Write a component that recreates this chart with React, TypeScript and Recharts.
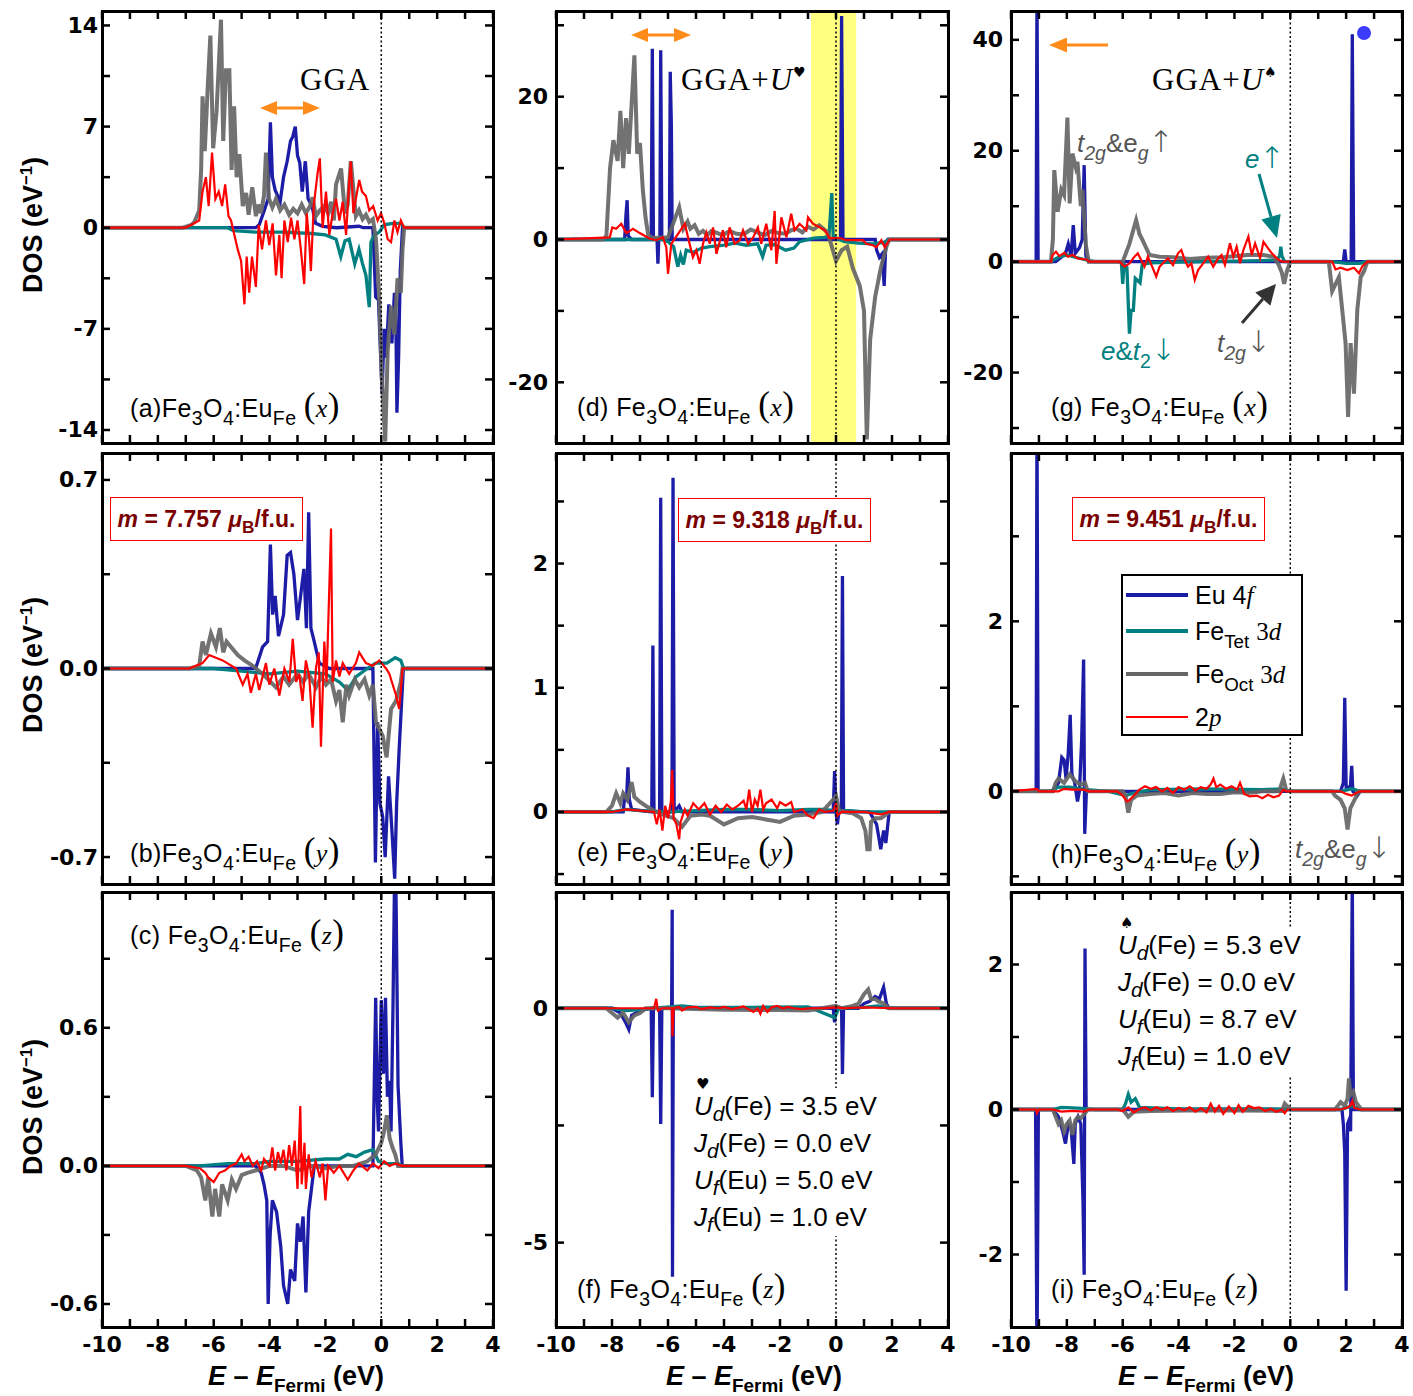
import React from 'react';
import { LineChart, Line, XAxis, YAxis, ReferenceLine, ReferenceArea } from 'recharts';

type Pt = [number, number];

const C_EU = '#1c1ca6';
const C_TET = '#008080';
const C_OCT = '#666666';
const C_P = '#ff0000';

const SANS = "'Liberation Sans', Arial, Helvetica, 'DejaVu Sans', sans-serif";
const SERIF = "'Liberation Serif', 'Times New Roman', 'DejaVu Serif', serif";
const TICKF = "'DejaVu Sans', sans-serif";
const ARROWF = "'DejaVu Sans', sans-serif";

const X_TICKS = [-10, -9, -8, -7, -6, -5, -4, -3, -2, -1, 0, 1, 2, 3, 4];

// ---------- panel (a) GGA, x ----------
const aDom: [number, number] = [-14.9, 15.0];
const aTicks = [-14, -10.5, -7, -3.5, 0, 3.5, 7, 10.5, 14];
const aLabels = [-14, -7, 0, 7, 14];
const aEu: Pt[] = [[-10,0],[-4.5,0],[-4.37,0.2],[-4.19,1.2],[-4.05,2],[-3.97,7.3],[-3.9,3.5],[-3.8,2.6],[-3.62,1.8],[-3.5,3.5],[-3.37,4.6],[-3.25,6.0],[-3.17,6.3],[-3.08,7.0],[-3.0,5.0],[-2.92,4.5],[-2.83,2.5],[-2.72,4.6],[-2.62,2.0],[-2.48,1.5],[-2.35,0.3],[-2.1,0.1],[-1.6,0],[-0.8,0.1],[-0.65,0],[-0.3,0],[-0.2,-4.8],[-0.1,-5],[0.03,-11.5],[0.1,-7],[0.17,-9],[0.27,-5.3],[0.38,-8],[0.47,-4.5],[0.52,-6],[0.56,-12.8],[0.62,-9],[0.68,-3],[0.76,0],[4,0]];
const aTet: Pt[] = [[-10,0],[-5.5,0],[-5.3,-0.2],[-4.5,-0.3],[-3.5,-0.3],[-2.5,-0.4],[-2.0,-0.5],[-1.62,-0.8],[-1.45,-2.0],[-1.3,-0.9],[-1.15,-0.8],[-0.95,-2.5],[-0.8,-1.5],[-0.67,-2.5],[-0.55,-3.3],[-0.43,-5.5],[-0.37,-1],[-0.25,-0.5],[-0.07,-0.3],[0.1,0.2],[0.4,0.3],[0.7,0.3],[0.82,0],[4,0]];
const aOct: Pt[] = [[-10,0],[-7.11,0],[-6.8,0.2],[-6.69,0.4],[-6.52,1.2],[-6.45,4],[-6.40,9.1],[-6.32,5.3],[-6.22,9.5],[-6.12,13.3],[-6.02,5.5],[-5.9,8],[-5.74,14.4],[-5.66,6],[-5.56,10.9],[-5.44,10.9],[-5.36,4],[-5.27,8.4],[-5.18,3.5],[-5.08,5.1],[-4.96,1.5],[-4.84,2.4],[-4.75,0.9],[-4.62,2.8],[-4.49,0.8],[-4.4,1.6],[-4.31,1.0],[-4.2,2.2],[-4.13,5.2],[-4.02,2.0],[-3.9,1.4],[-3.77,2.0],[-3.62,1.2],[-3.47,1.6],[-3.3,0.9],[-3.15,1.3],[-3.0,1.0],[-2.85,1.6],[-2.7,1.0],[-2.55,1.5],[-2.46,2.1],[-2.34,0.8],[-2.2,1.2],[-2.04,1.5],[-1.9,1.0],[-1.8,1.8],[-1.7,0.5],[-1.62,3.0],[-1.44,4.1],[-1.3,1.0],[-1.2,1.6],[-1.09,4.6],[-0.91,0.8],[-0.8,1.2],[-0.67,0.6],[-0.55,0.9],[-0.43,0.4],[-0.3,0.6],[-0.19,-0.8],[-0.07,-5],[0.02,-10.4],[0.14,-14.8],[0.23,-8.5],[0.35,-5.4],[0.47,-7.4],[0.58,-3.5],[0.70,-4.5],[0.76,-1.5],[0.82,0],[4,0]];
const aP: Pt[] = [[-10,0],[-7.0,0],[-6.52,0.5],[-6.40,2.5],[-6.28,3.5],[-6.18,1.5],[-6.06,5.2],[-5.94,2.0],[-5.82,2.5],[-5.70,1.5],[-5.59,3.0],[-5.47,0.8],[-5.38,0.5],[-5.26,-0.5],[-5.14,-1.5],[-5.02,-2.3],[-4.90,-5.3],[-4.82,-2.0],[-4.73,-4.5],[-4.63,-2.0],[-4.49,-4.1],[-4.39,0.2],[-4.27,-1.5],[-4.13,0.5],[-4.01,-1.2],[-3.89,0.3],[-3.77,-3.3],[-3.65,-0.5],[-3.57,-3.5],[-3.47,0.5],[-3.35,-1.0],[-3.23,0.7],[-3.11,-0.8],[-3.0,0.5],[-2.88,-1.5],[-2.76,-3.9],[-2.67,1.0],[-2.58,-1],[-2.52,-3.0],[-2.42,1.5],[-2.28,3.8],[-2.2,4.8],[-2.1,0],[-1.98,2.5],[-1.86,-0.5],[-1.74,1.0],[-1.62,2.0],[-1.5,0.5],[-1.38,1.8],[-1.26,-0.5],[-1.15,3.2],[-1.09,4.6],[-1.0,1.0],[-0.91,2.0],[-0.79,3.3],[-0.69,2.5],[-0.55,2.2],[-0.43,1.2],[-0.29,1.5],[-0.13,0.5],[-0.01,1.0],[0.11,0.3],[0.23,-0.8],[0.35,-1.0],[0.47,0.5],[0.58,-0.3],[0.70,0.5],[0.82,0],[4,0]];

// ---------- panel (b) GGA, y ----------
const bDom: [number, number] = [-0.8, 0.8];
const bTicks = [-0.7, -0.35, 0, 0.35, 0.7];
const bLabels = [-0.7, 0, 0.7];
const bEu: Pt[] = [[-10,0],[-4.5,0],[-4.25,0.08],[-4.07,0.1],[-3.97,0.46],[-3.89,0.2],[-3.8,0.27],[-3.68,0.12],[-3.5,0.2],[-3.37,0.42],[-3.25,0.43],[-3.13,0.35],[-3.0,0.18],[-2.9,0.26],[-2.77,0.37],[-2.68,0.15],[-2.6,0.58],[-2.52,0.15],[-2.4,0.1],[-2.22,0.02],[-1.86,0],[-0.3,0],[-0.21,-0.72],[-0.13,-0.2],[-0.05,-0.5],[0.05,-0.55],[0.14,-0.7],[0.26,-0.4],[0.38,-0.6],[0.48,-0.78],[0.55,-0.5],[0.64,-0.3],[0.74,-0.1],[0.79,0],[4,0]];
const bTet: Pt[] = [[-10,0],[-6,0],[-5,-0.01],[-4,-0.02],[-3,-0.01],[-2,-0.02],[-1.5,-0.05],[-1.2,-0.08],[-0.9,-0.03],[-0.5,0],[-0.2,0.02],[0.2,0.02],[0.5,0.04],[0.7,0.03],[0.8,0],[4,0]];
const bOct: Pt[] = [[-10,0],[-6.87,0],[-6.52,0.01],[-6.4,0.1],[-6.28,0.05],[-6.1,0.13],[-5.92,0.08],[-5.78,0.15],[-5.66,0.06],[-5.54,0.1],[-5.38,0.08],[-5.14,0.05],[-4.9,0.03],[-4.6,0.01],[-4.25,-0.02],[-3.77,-0.07],[-3.5,-0.03],[-3.3,-0.06],[-3.0,-0.02],[-2.8,-0.05],[-2.6,-0.02],[-2.34,-0.07],[-2.15,-0.03],[-1.98,-0.06],[-1.8,-0.04],[-1.62,-0.12],[-1.5,-0.08],[-1.38,-0.2],[-1.25,-0.06],[-1.15,-0.1],[-0.95,-0.04],[-0.79,-0.07],[-0.6,-0.04],[-0.43,-0.1],[-0.3,-0.06],[-0.19,-0.2],[0.05,-0.25],[0.19,-0.33],[0.35,-0.15],[0.53,-0.12],[0.7,-0.05],[0.76,0],[4,0]];
const bP: Pt[] = [[-10,0],[-6.87,0],[-6.4,0.02],[-6.16,0.05],[-5.68,0.03],[-5.2,0.0],[-4.96,-0.06],[-4.79,-0.02],[-4.67,-0.09],[-4.49,-0.02],[-4.37,-0.08],[-4.13,0.02],[-4.01,-0.06],[-3.83,0.0],[-3.65,-0.1],[-3.47,0],[-3.29,-0.05],[-3.17,0.11],[-3.05,-0.05],[-2.94,-0.02],[-2.82,-0.12],[-2.7,0.03],[-2.58,-0.03],[-2.46,-0.22],[-2.34,0.0],[-2.24,0.06],[-2.16,-0.29],[-2.04,0.1],[-1.96,-0.05],[-1.8,0.52],[-1.74,-0.05],[-1.62,0.03],[-1.5,-0.03],[-1.38,0.02],[-1.15,-0.02],[-0.91,0.02],[-0.79,0.06],[-0.55,0.02],[-0.31,0.01],[-0.07,0.03],[0.17,0],[0.29,-0.02],[0.53,-0.1],[0.64,-0.15],[0.7,-0.08],[0.76,0],[4,0]];

// ---------- panel (c) GGA, z ----------
const cDom: [number, number] = [-0.7, 1.19];
const cTicks = [-0.6, -0.3, 0, 0.3, 0.6, 0.9];
const cLabels = [-0.6, 0, 0.6];
const cEu: Pt[] = [[-10,0],[-4.5,0],[-4.3,-0.03],[-4.2,-0.08],[-4.1,-0.15],[-4.05,-0.6],[-3.98,-0.3],[-3.9,-0.15],[-3.75,-0.2],[-3.6,-0.35],[-3.5,-0.52],[-3.35,-0.6],[-3.25,-0.45],[-3.1,-0.5],[-3.0,-0.25],[-2.9,-0.33],[-2.8,-0.22],[-2.7,-0.55],[-2.6,-0.2],[-2.5,-0.1],[-2.4,0],[-0.3,0],[-0.2,0.73],[-0.15,0.3],[-0.1,0.15],[0.0,0.72],[0.08,0.4],[0.15,0.73],[0.22,0.3],[0.3,0.37],[0.35,0.15],[0.42,0.7],[0.5,1.5],[0.6,0.35],[0.7,0.1],[0.75,0],[4,0]];
const cTet: Pt[] = [[-10,0],[-7,0],[-6.5,0.0],[-5.5,0.01],[-4.5,0.01],[-4,0.02],[-3,0.02],[-2,0.03],[-1.5,0.03],[-1.2,0.05],[-0.9,0.04],[-0.6,0.06],[-0.3,0.07],[-0.1,0.02],[0.2,0.01],[0.6,0.01],[0.75,0],[4,0]];
const cOct: Pt[] = [[-10,0],[-7,0],[-6.6,-0.02],[-6.45,-0.05],[-6.3,-0.15],[-6.2,-0.05],[-6.05,-0.22],[-5.95,-0.1],[-5.8,-0.22],[-5.7,-0.08],[-5.5,-0.15],[-5.35,-0.06],[-5.2,-0.1],[-5.0,-0.04],[-4.8,-0.03],[-4.5,-0.02],[-4.0,0.0],[-3.5,0.0],[-3.0,-0.02],[-2.5,0.0],[-2.0,-0.01],[-1.5,0],[-1.0,0],[-0.5,0.02],[-0.2,0.05],[0.0,0.1],[0.1,0.15],[0.2,0.22],[0.3,0.12],[0.4,0.08],[0.5,0.05],[0.6,0],[4,0]];
const cP: Pt[] = [[-10,0],[-7,0],[-6.5,-0.01],[-6.3,-0.03],[-6.2,-0.05],[-6.0,-0.07],[-5.8,-0.03],[-5.6,-0.02],[-5.4,0.0],[-5.2,0.01],[-5.0,0.05],[-4.9,0.02],[-4.75,0.04],[-4.6,0.0],[-4.45,0.02],[-4.3,-0.02],[-4.2,0.03],[-4.0,0.0],[-3.9,0.08],[-3.8,-0.02],[-3.7,0.06],[-3.6,0.01],[-3.5,0.07],[-3.4,-0.02],[-3.3,0.09],[-3.2,0.0],[-3.1,0.11],[-3.0,-0.1],[-2.9,0.26],[-2.85,-0.08],[-2.75,0.1],[-2.7,-0.1],[-2.6,0.05],[-2.5,-0.05],[-2.35,0.02],[-2.2,-0.05],[-2.1,0.01],[-2.0,-0.15],[-1.9,0.0],[-1.7,-0.03],[-1.5,0.0],[-1.2,-0.06],[-1.0,-0.02],[-0.8,0.01],[-0.5,-0.02],[-0.3,0.01],[-0.1,-0.01],[0.1,0.02],[0.3,0.0],[0.5,0.01],[0.75,0],[4,0]];

// ---------- panel (d) GGA+U, x ----------
const dDom: [number, number] = [-28.5, 32];
const dTicks = [-20, -10, 0, 10, 20, 30];
const dLabels = [-20, 0, 20];
const dEu: Pt[] = [[-10,0],[-7.55,0],[-7.5,3.5],[-7.46,5.5],[-7.42,0.5],[-7.3,0],[-6.6,0],[-6.56,26.7],[-6.52,0],[-6.39,0],[-6.36,-3.4],[-6.33,0],[-6.29,0],[-6.26,26.5],[-6.22,0],[-5.95,0],[-5.92,23.5],[-5.88,16],[-5.85,0],[0.16,0],[0.2,31.3],[0.25,0],[1.4,0],[1.45,-1.5],[1.55,-2.5],[1.65,-2],[1.72,-6.5],[1.78,-0.5],[1.85,0],[4,0]];
const dTet: Pt[] = [[-10,0],[-6.2,0],[-6.0,-0.3],[-5.8,-1],[-5.65,-3.8],[-5.55,-2.2],[-5.45,-3.5],[-5.35,-1.5],[-5.1,-1.8],[-4.8,-1.2],[-4.5,-1.0],[-4.0,-0.8],[-3.6,-0.5],[-3.2,-0.8],[-2.8,-0.6],[-2.62,-2.4],[-2.5,-0.8],[-2.2,-0.7],[-1.8,-1.5],[-1.5,-1.2],[-1.3,-0.3],[-0.8,0.2],[-0.4,0.3],[-0.25,0.5],[-0.15,6.5],[-0.1,0.5],[0,0.2],[0.3,-0.3],[0.8,-0.5],[1.3,-0.6],[1.7,-0.4],[1.9,0],[4,0]];
const dOct: Pt[] = [[-10,0],[-8.32,0],[-8.2,0.5],[-8.07,10],[-7.95,13.9],[-7.8,11],[-7.7,18],[-7.6,10],[-7.5,17],[-7.4,12],[-7.2,25.8],[-7.1,12],[-7.0,13.5],[-6.9,7],[-6.8,3],[-6.7,0.5],[-6.5,0.2],[-6.0,0.3],[-5.6,4.5],[-5.45,1.5],[-5.3,2.5],[-5.2,1.5],[-5.05,2.0],[-4.9,0.8],[-4.75,1.2],[-4.6,0.6],[-4.45,1.2],[-4.3,1.0],[-4.05,0.6],[-3.8,1.2],[-3.55,0.8],[-3.3,0.7],[-3.05,1.4],[-2.8,1.0],[-2.55,0.6],[-2.3,1.2],[-2.05,0.9],[-1.8,0.8],[-1.6,1.3],[-1.4,1.5],[-1.2,1.0],[-1.0,1.8],[-0.8,1.4],[-0.6,2.0],[-0.3,1.0],[-0.15,-1],[0.0,-3],[0.2,-1.5],[0.4,-1],[0.6,-4],[0.85,-6.5],[1.0,-10],[1.1,-28],[1.22,-14],[1.4,-8],[1.6,-4],[1.8,-1],[1.9,0],[4,0]];
const dP: Pt[] = [[-10,0],[-8.08,0.3],[-7.99,1.7],[-7.85,1.5],[-7.67,2.2],[-7.49,0.9],[-7.25,1.5],[-7.01,0.9],[-6.65,0.1],[-6.42,-0.1],[-6.18,0.3],[-6.06,-1.1],[-6.0,-4.8],[-5.88,-0.6],[-5.4,2.2],[-5.23,-0.6],[-5.11,-2.5],[-4.99,-1.5],[-4.87,-3.4],[-4.75,-0.6],[-4.63,1.0],[-4.51,-0.6],[-4.39,1.7],[-4.27,-2.0],[-4.04,1.3],[-3.92,-1.1],[-3.8,1.7],[-3.62,-0.6],[-3.44,-0.1],[-3.32,1.3],[-3.14,-0.6],[-2.96,0.3],[-2.79,1.7],[-2.67,-0.6],[-2.49,2.2],[-2.31,-1.5],[-2.19,4.0],[-2.13,-3.4],[-1.95,3.1],[-1.77,0.3],[-1.6,3.6],[-1.48,1.3],[-1.3,2.2],[-1.06,1.3],[-1.0,3.1],[-0.82,2.2],[-0.58,1.7],[-0.4,1.3],[-0.23,0.2],[0.13,0.2],[0.37,-0.1],[0.96,-0.1],[1.08,-0.6],[1.32,-0.8],[1.44,-1.1],[1.62,-0.1],[1.74,-1.1],[1.92,0],[4,0]];

// ---------- panel (e) GGA+U, y ----------
const eDom: [number, number] = [-0.58, 2.89];
const eTicks = [-0.5, 0, 0.5, 1, 1.5, 2, 2.5];
const eLabels = [0, 1, 2];
const eEu: Pt[] = [[-10,0],[-7.6,0],[-7.55,0.12],[-7.48,0.1],[-7.43,0.36],[-7.38,0.1],[-7.3,0.02],[-6.58,0],[-6.54,1.34],[-6.5,0],[-6.3,0],[-6.26,2.53],[-6.22,0],[-5.86,0],[-5.82,2.69],[-5.78,0],[-5.6,0.05],[-5.5,0.0],[-0.1,0],[-0.05,0.33],[0.0,0],[0.05,-0.1],[0.1,0],[0.19,0],[0.23,1.9],[0.27,0],[1.2,0],[1.45,-0.1],[1.6,-0.3],[1.7,-0.15],[1.78,-0.25],[1.9,0],[4,0]];
const eTet: Pt[] = [[-10,0],[-8,0],[-7.5,0.02],[-7,0.01],[-6,0],[-5,0.01],[-4,0.02],[-3,0.02],[-2,0.01],[-1,0.02],[-0.5,0.02],[0,0.01],[0.5,0.01],[1,0],[4,0]];
const eOct: Pt[] = [[-10,0],[-8.2,0],[-8.0,0.05],[-7.85,0.15],[-7.7,0.07],[-7.6,0.15],[-7.45,0.1],[-7.3,0.24],[-7.2,0.12],[-7.0,0.08],[-6.8,0.05],[-6.5,0.01],[-6.2,-0.02],[-5.8,-0.05],[-5.5,-0.12],[-5.2,-0.03],[-4.8,-0.02],[-4.5,-0.03],[-4.0,-0.1],[-3.5,-0.05],[-3.0,-0.04],[-2.5,-0.06],[-2.0,-0.08],[-1.5,-0.03],[-1.0,-0.02],[-0.5,0.0],[-0.1,0.1],[0.0,0.13],[0.1,0.02],[0.3,0],[0.6,-0.01],[0.9,-0.05],[1.05,-0.15],[1.12,-0.3],[1.2,-0.3],[1.25,-0.08],[1.4,-0.05],[1.6,-0.05],[1.8,-0.02],[1.9,0],[4,0]];
const eP: Pt[] = [[-10,0],[-8,0],[-7.5,0.02],[-7.0,0.01],[-6.5,0.0],[-6.4,-0.1],[-6.3,0.02],[-6.2,-0.15],[-6.1,0.05],[-6.0,-0.05],[-5.9,0.08],[-5.85,0.34],[-5.8,-0.05],[-5.7,-0.1],[-5.6,-0.22],[-5.55,-0.08],[-5.4,0.02],[-5.3,-0.03],[-5.1,0.07],[-4.9,0.02],[-4.7,0.07],[-4.5,-0.02],[-4.3,0.05],[-4.1,0.0],[-3.9,0.06],[-3.7,0.02],[-3.5,0.05],[-3.3,0.09],[-3.2,0.02],[-3.1,0.18],[-3.0,0.0],[-2.9,0.1],[-2.8,0.05],[-2.7,0.18],[-2.6,0.02],[-2.5,0.07],[-2.3,0.1],[-2.1,0.03],[-2.0,0.08],[-1.8,0.05],[-1.6,0.08],[-1.5,0.0],[-1.2,0.02],[-1.0,-0.03],[-0.8,-0.05],[-0.6,0.02],[-0.4,0],[-0.1,0.01],[0.0,0.07],[0.05,-0.03],[0.2,0],[1.0,0],[1.6,-0.02],[1.9,0],[4,0]];

// ---------- panel (f) GGA+U, z ----------
const fDom: [number, number] = [-6.8, 2.48];
const fTicks = [-5, -2.5, 0];
const fLabels = [-5, 0];
const fEu: Pt[] = [[-10,0],[-8,0],[-7.7,-0.1],[-7.5,-0.32],[-7.4,-0.45],[-7.3,-0.15],[-7.0,-0.05],[-6.6,0],[-6.56,-1.9],[-6.52,0],[-6.3,0],[-6.26,-2.47],[-6.22,0],[-5.87,0],[-5.85,2.1],[-5.84,-5.73],[-5.81,0],[-0.1,0],[-0.05,-0.3],[0,0],[0.2,0],[0.23,-1.4],[0.27,0],[0.8,0],[1.0,0.1],[1.2,0.15],[1.4,0.25],[1.55,0.2],[1.7,0.45],[1.8,0.1],[1.9,0],[4,0]];
const fTet: Pt[] = [[-10,0],[-8,0],[-7.5,-0.05],[-7,-0.03],[-6.5,0],[-5.5,0.05],[-5,0.02],[-3,0.02],[-1,0.03],[-0.05,-0.2],[0.1,0],[1,0.02],[1.5,0.05],[1.9,0],[4,0]];
const fOct: Pt[] = [[-10,0],[-8.2,0],[-8.0,-0.1],[-7.8,-0.2],[-7.6,-0.1],[-7.4,-0.3],[-7.2,-0.15],[-7.0,-0.1],[-6.8,0],[-6.0,0],[-4,-0.03],[-2,-0.04],[-1,-0.05],[0,0.05],[0.2,0],[0.6,0.05],[0.8,0.1],[1.0,0.3],[1.15,0.4],[1.25,0.2],[1.4,0.2],[1.5,0.15],[1.7,0.1],[1.9,0],[4,0]];
const fP: Pt[] = [[-10,0],[-6.5,0],[-6.42,0.2],[-6.36,-0.05],[-6.2,0],[-5.86,0],[-5.84,-0.6],[-5.8,0],[-5.6,0.03],[-5.5,-0.05],[-5.3,0.02],[-5.0,0.03],[-4.8,-0.02],[-4.5,0.02],[-4.2,0.0],[-4.0,0.03],[-3.7,-0.02],[-3.5,0.01],[-3.3,0.04],[-3.1,-0.03],[-2.95,-0.08],[-2.8,0.0],[-2.7,-0.12],[-2.6,0.05],[-2.45,-0.08],[-2.3,0.02],[-2.1,0.05],[-1.9,0.0],[-1.7,0.03],[-1.5,0.0],[-1.2,-0.02],[-1.0,0.0],[-0.5,0],[0,0.02],[0.3,0],[1,0.02],[2,0],[4,0]];

// ---------- panel (g) GGA+U(spade), x ----------
const gDom: [number, number] = [-32.7, 45.2];
const gTicks = [-30, -20, -10, 0, 10, 20, 30, 40];
const gLabels = [-20, 0, 20, 40];
const gEu: Pt[] = [[-10,0],[-9.1,0],[-9.07,50],[-9.03,0],[-8.4,0],[-8.2,0.8],[-8.05,1.5],[-7.95,3.2],[-7.85,1],[-7.77,6.6],[-7.7,1.5],[-7.55,2.5],[-7.45,4],[-7.38,17.4],[-7.32,1],[-7.2,0],[1.9,0],[1.95,2.2],[2.0,0],[2.18,0],[2.22,41],[2.27,0],[4,0]];
const gTet: Pt[] = [[-10,0],[-8.6,0],[-8.3,0.8],[-8.0,1.2],[-7.7,0.8],[-7.3,0.3],[-7.0,0],[-6.05,0],[-6.0,-4],[-5.95,-0.5],[-5.85,-1],[-5.76,-13],[-5.7,-8.8],[-5.62,-8.8],[-5.55,-3],[-5.38,-3.8],[-5.3,-0.5],[-5.0,-0.2],[-4.0,-0.1],[-3.0,0],[-2.0,0.1],[-1.0,0.2],[-0.5,0.3],[-0.38,1.0],[-0.34,2.7],[-0.3,1.0],[-0.2,0],[1.5,0],[2.0,-0.3],[2.5,-0.3],[2.7,0],[4,0]];
const gOct: Pt[] = [[-10,0],[-8.57,0],[-8.5,4],[-8.45,16.5],[-8.33,9],[-8.2,13],[-8.1,12],[-7.98,26],[-7.9,10.5],[-7.8,19.5],[-7.68,17],[-7.62,18],[-7.5,10],[-7.44,13],[-7.32,3],[-7.22,0],[-6.0,0],[-5.76,3.2],[-5.52,7.5],[-5.4,5],[-5.28,3.8],[-5.04,1.2],[-4.68,0.9],[-4.2,0.8],[-3.6,0.5],[-3.0,0.7],[-2.4,0.8],[-1.56,1.2],[-0.96,1.2],[-0.6,0.9],[-0.42,-0.5],[-0.3,-2],[-0.22,-4],[-0.12,-1.7],[0,0],[1.38,0],[1.5,-5.3],[1.74,-2.8],[1.86,-8.7],[1.98,-14.7],[2.07,-28],[2.16,-14.7],[2.28,-23.8],[2.4,-8.7],[2.52,-2.8],[2.64,-1.7],[2.76,0],[4,0]];
const gP: Pt[] = [[-10,0],[-8.57,0],[-8.51,1.2],[-8.39,1.8],[-8.27,1.0],[-8.09,1.6],[-7.97,0.9],[-7.79,1.2],[-7.61,0.6],[-7.31,0.4],[-7.19,0],[-6.12,0],[-5.94,-0.9],[-5.76,-0.3],[-5.58,0.9],[-5.46,1.5],[-5.34,0.3],[-5.22,-0.9],[-5.1,0.9],[-4.92,-1.2],[-4.8,-2.7],[-4.68,-0.9],[-4.56,-0.3],[-4.38,0.6],[-4.2,-0.6],[-4.02,1.5],[-3.9,2.1],[-3.78,0.3],[-3.66,-0.9],[-3.54,-0.3],[-3.42,-3.3],[-3.3,-1.5],[-3.12,-0.3],[-2.94,0.9],[-2.76,-0.9],[-2.58,0.6],[-2.46,1.2],[-2.34,-0.6],[-2.16,3.3],[-2.04,0.9],[-1.92,2.7],[-1.8,-0.3],[-1.68,2.1],[-1.5,4.5],[-1.38,1.2],[-1.26,3.3],[-1.08,0.6],[-0.96,3.6],[-0.84,2.7],[-0.66,1.5],[-0.48,0.6],[-0.3,0],[1.5,0],[1.62,-1.4],[1.8,-1.1],[2.04,-1.5],[2.28,-1.1],[2.46,-2.1],[2.58,-0.8],[2.76,0],[4,0]];

// ---------- panel (h) GGA+U(spade), y ----------
const hDom: [number, number] = [-1.09, 3.98];
const hTicks = [-1, 0, 1, 2, 3];
const hLabels = [0, 2];
const hEu: Pt[] = [[-10,0],[-9.1,0],[-9.07,4.5],[-9.03,0],[-8.5,0],[-8.3,0.1],[-8.18,0.4],[-8.1,0.37],[-8.03,0.15],[-7.95,0.45],[-7.88,0.9],[-7.82,0.2],[-7.72,0.1],[-7.62,-0.12],[-7.55,0],[-7.47,0.6],[-7.4,1.55],[-7.36,-0.5],[-7.3,0],[1.8,0],[1.9,0.1],[1.95,1.1],[2.0,0.05],[2.15,0.05],[2.2,0.3],[2.24,0],[2.4,-0.05],[2.5,0],[4,0]];
const hTet: Pt[] = [[-10,0],[-8.6,0],[-8.3,0.05],[-7.9,0.05],[-7.3,0.02],[-6.5,0],[-5.9,-0.05],[-5.7,-0.03],[-5,0.02],[-3,0.03],[-1,0.02],[-0.3,0.03],[0,0],[1.8,0],[2.2,0.03],[2.5,0],[4,0]];
const hOct: Pt[] = [[-10,0],[-8.5,0],[-8.4,0.1],[-8.3,0.15],[-8.1,0.1],[-7.9,0.2],[-7.7,0.12],[-7.5,0.08],[-7.35,0.1],[-7.25,0],[-6.0,0],[-5.9,-0.05],[-5.8,-0.25],[-5.7,-0.1],[-5.5,-0.05],[-5.0,-0.03],[-4.5,-0.02],[-4.0,-0.05],[-3.5,-0.02],[-3.0,-0.03],[-2.5,-0.03],[-2.0,-0.01],[-1.5,-0.02],[-1.0,0],[-0.4,0],[-0.25,0.15],[-0.15,0.02],[0,0],[1.5,0],[1.6,-0.05],[1.8,-0.1],[1.95,-0.2],[2.05,-0.45],[2.15,-0.2],[2.3,-0.1],[2.45,0],[4,0]];
const hP: Pt[] = [[-10,0],[-9.07,0.03],[-9.0,0],[-8.3,0],[-8.1,0.03],[-7.8,0.02],[-7.4,0.02],[-7.2,0],[-6.2,0],[-6.0,-0.05],[-5.85,-0.12],[-5.75,-0.1],[-5.6,-0.05],[-5.4,0.02],[-5.2,0.06],[-5.0,0.03],[-4.8,0.05],[-4.6,0.0],[-4.4,0.04],[-4.2,-0.02],[-4.0,0.05],[-3.8,0.02],[-3.6,0.06],[-3.4,0.01],[-3.2,0.05],[-3.0,0.03],[-2.85,0.08],[-2.75,0.15],[-2.65,0.05],[-2.5,0.08],[-2.3,0.03],[-2.1,0.06],[-1.9,0.02],[-1.8,0.1],[-1.65,-0.03],[-1.45,-0.06],[-1.2,-0.05],[-1.0,-0.08],[-0.8,-0.04],[-0.6,-0.07],[-0.4,-0.05],[-0.25,0.02],[-0.15,0],[1.8,0],[2.0,-0.03],[2.2,-0.05],[2.35,-0.02],[2.5,0],[4,0]];

// ---------- panel (i) GGA+U(spade), z ----------
const iDom: [number, number] = [-3.0, 3.0];
const iTicks = [-2, -1, 0, 1, 2];
const iLabels = [-2, 0, 2];
const iEu: Pt[] = [[-10,0],[-9.12,0],[-9.07,-3.5],[-9.02,0],[-8.5,0],[-8.3,-0.1],[-8.15,-0.3],[-8.05,-0.47],[-7.95,-0.2],[-7.85,-0.25],[-7.75,-0.75],[-7.7,-0.2],[-7.6,-0.1],[-7.5,-0.2],[-7.42,-1.3],[-7.38,-2.28],[-7.35,2.22],[-7.31,0],[-7.2,0],[1.85,0],[1.9,-0.2],[1.95,-0.6],[2.0,-2.5],[2.05,-0.2],[2.1,-0.15],[2.16,-0.3],[2.22,3.2],[2.26,0],[4,0]];
const iTet: Pt[] = [[-10,0],[-8.5,0],[-8.2,0.03],[-7.6,0.02],[-7.0,0],[-6.0,0],[-5.9,0.08],[-5.8,0.21],[-5.7,0.1],[-5.55,0.15],[-5.4,0.03],[-4,0.01],[-1,0.01],[0,0],[1.8,0],[2.2,0.05],[2.5,0],[4,0]];
const iOct: Pt[] = [[-10,0],[-8.5,0],[-8.4,-0.1],[-8.3,-0.2],[-8.2,-0.15],[-8.1,-0.3],[-8.0,-0.2],[-7.9,-0.15],[-7.8,-0.35],[-7.7,-0.15],[-7.6,-0.1],[-7.5,-0.12],[-7.35,-0.05],[-7.25,0],[-6.0,0],[-5.9,-0.05],[-5.8,-0.1],[-5.6,-0.03],[-5.0,-0.02],[-3,-0.01],[-0.3,-0.02],[-0.2,0.08],[0,0],[1.6,0],[1.7,0.05],[1.8,0.1],[1.95,0.05],[2.05,0.15],[2.1,0.43],[2.15,0.2],[2.25,0.25],[2.35,0.1],[2.45,0.05],[2.55,0],[4,0]];
const iP: Pt[] = [[-10,0],[-9.1,0],[-9.07,-0.05],[-9.0,0],[-8.5,0],[-8.2,-0.03],[-7.8,-0.02],[-7.4,-0.03],[-7.2,0],[-6.2,0],[-6.0,-0.02],[-5.8,0.03],[-5.6,-0.04],[-5.4,0.01],[-5.2,0.03],[-5.0,-0.01],[-4.8,0.03],[-4.6,0.0],[-4.4,0.03],[-4.2,-0.02],[-4.0,0.02],[-3.8,-0.01],[-3.6,0.03],[-3.4,-0.03],[-3.2,0.02],[-3.0,-0.04],[-2.85,0.08],[-2.7,-0.03],[-2.55,0.05],[-2.4,-0.06],[-2.2,0.04],[-2.0,-0.05],[-1.85,0.06],[-1.7,-0.03],[-1.5,0.05],[-1.3,0.02],[-1.1,0.03],[-0.9,-0.02],[-0.7,0.01],[-0.5,-0.03],[-0.3,0.0],[-0.2,-0.05],[-0.1,0],[1.8,0],[2.0,0.02],[2.15,0.05],[2.22,0.12],[2.3,0.02],[2.5,0],[4,0]];

// ---------- layout ----------
const COL_X = [102, 556, 1011];
const COL_W = [391, 392, 391];
const ROW_Y = [11, 453, 892];
const ROW_H = [432, 431, 435];

interface PanelCfg {
  col: number; row: number; dom: [number, number]; ticks: number[]; labels: number[]; dig: number;
  eu: Pt[]; tet: Pt[]; oct: Pt[]; p: Pt[]; band?: [number, number];
}

const PANELS: PanelCfg[] = [
  { col: 0, row: 0, dom: aDom, ticks: aTicks, labels: aLabels, dig: 0, eu: aEu, tet: aTet, oct: aOct, p: aP },
  { col: 0, row: 1, dom: bDom, ticks: bTicks, labels: bLabels, dig: 1, eu: bEu, tet: bTet, oct: bOct, p: bP },
  { col: 0, row: 2, dom: cDom, ticks: cTicks, labels: cLabels, dig: 1, eu: cEu, tet: cTet, oct: cOct, p: cP },
  { col: 1, row: 0, dom: dDom, ticks: dTicks, labels: dLabels, dig: 0, eu: dEu, tet: dTet, oct: dOct, p: dP, band: [-0.89, 0.72] },
  { col: 1, row: 1, dom: eDom, ticks: eTicks, labels: eLabels, dig: 0, eu: eEu, tet: eTet, oct: eOct, p: eP },
  { col: 1, row: 2, dom: fDom, ticks: fTicks, labels: fLabels, dig: 0, eu: fEu, tet: fTet, oct: fOct, p: fP },
  { col: 2, row: 0, dom: gDom, ticks: gTicks, labels: gLabels, dig: 0, eu: gEu, tet: gTet, oct: gOct, p: gP },
  { col: 2, row: 1, dom: hDom, ticks: hTicks, labels: hLabels, dig: 0, eu: hEu, tet: hTet, oct: hOct, p: hP },
  { col: 2, row: 2, dom: iDom, ticks: iTicks, labels: iLabels, dig: 0, eu: iEu, tet: iTet, oct: iOct, p: iP },
];

const toData = (a: Pt[]) => a.map(([x, y]) => ({ x, y }));
const TICK_LEN = 8;
const YW = 60, XH = 30;
const PL = 70, PR = 12, PT = 12, PB = 40;

function DosPanel({ cfg }: { cfg: PanelCfg }) {
  const left = COL_X[cfg.col], top = ROW_Y[cfg.row], w = COL_W[cfg.col], h = ROW_H[cfg.row];
  const showX = cfg.row === 2;
  const gap = cfg.col === 0 ? 4 : 8;
  const xTick = (props: any) => {
    const { x, y, payload } = props;
    const v = payload.value as number;
    return (
      <g>
        <line x1={x} x2={x} y1={y} y2={y - TICK_LEN} stroke="#000" strokeWidth={2.5} />
        <line x1={x} x2={x} y1={y - h} y2={y - h + TICK_LEN} stroke="#000" strokeWidth={2.5} />
        {showX && v % 2 === 0 ? (
          <text x={x} y={y + 17} textAnchor="middle" dominantBaseline="central" fill="#000"
            style={{ fontFamily: TICKF, fontWeight: 'bold', fontSize: 22 }}>{String(v)}</text>
        ) : null}
      </g>
    );
  };
  const yTick = (props: any) => {
    const { x, y, payload } = props;
    const v = payload.value as number;
    const lab = cfg.labels.some((l) => Math.abs(l - v) < 1e-9);
    return (
      <g>
        <line x1={x} x2={x + TICK_LEN} y1={y} y2={y} stroke="#000" strokeWidth={2.5} />
        <line x1={x + w} x2={x + w - TICK_LEN} y1={y} y2={y} stroke="#000" strokeWidth={2.5} />
        {lab ? (
          <text x={x - gap} y={y} textAnchor="end" dominantBaseline="central" fill="#000"
            style={{ fontFamily: TICKF, fontWeight: 'bold', fontSize: 22 }}>{v.toFixed(cfg.dig)}</text>
        ) : null}
      </g>
    );
  };
  return (
    <>
      <div style={{ position: 'absolute', left: left - PL, top: top - PT }}>
        <LineChart width={w + PL + PR} height={h + PT + PB} margin={{ top: PT, right: PR, bottom: PB - XH, left: PL - YW }}>
          <XAxis dataKey="x" type="number" domain={[-10, 4]} ticks={X_TICKS} interval={0} allowDataOverflow
            height={XH} tickSize={0} tickMargin={0} axisLine={false} tickLine={false} tick={xTick} />
          <YAxis type="number" domain={cfg.dom} ticks={cfg.ticks} interval={0} allowDataOverflow
            width={YW} tickSize={0} tickMargin={0} axisLine={false} tickLine={false} tick={yTick} />
          {cfg.band ? (
            <ReferenceArea x1={cfg.band[0]} x2={cfg.band[1]} fill="#ffff80" fillOpacity={1} stroke="none" />
          ) : null}
          <Line data={toData(cfg.eu)} dataKey="y" type="linear" stroke={C_EU} strokeWidth={3.3} dot={false} isAnimationActive={false} />
          <Line data={toData(cfg.tet)} dataKey="y" type="linear" stroke={C_TET} strokeWidth={3.3} dot={false} isAnimationActive={false} />
          <Line data={toData(cfg.oct)} dataKey="y" type="linear" stroke={C_OCT} strokeOpacity={0.92} strokeWidth={4} dot={false} isAnimationActive={false} />
          <Line data={toData(cfg.p)} dataKey="y" type="linear" stroke={C_P} strokeWidth={2.2} dot={false} isAnimationActive={false} />
          <ReferenceLine x={0} stroke="#000" strokeDasharray="2 2.5" strokeWidth={1.5} />
        </LineChart>
      </div>
      <div style={{ position: 'absolute', left: left - 1.5, top: top - 1.5, width: w + 3, height: h + 3, border: '3px solid #000', boxSizing: 'border-box', pointerEvents: 'none' }} />
    </>
  );
}

const Sub = ({ children, s = '0.75em', d = '-0.4em' }: { children: React.ReactNode; s?: string; d?: string }) => (
  <span style={{ fontSize: s, verticalAlign: d, lineHeight: 0 }}>{children}</span>
);
const It = ({ children, serif = false }: { children: React.ReactNode; serif?: boolean }) => (
  <span style={{ fontStyle: 'italic', fontFamily: serif ? SERIF : undefined }}>{children}</span>
);
const Arr = ({ c }: { c: string }) => (
  <span style={{ fontFamily: ARROWF, fontSize: '1.15em', fontWeight: 200 }}>{c}</span>
);

function PanelLabel({ left, cy, letter, axis, space }: { left: number; cy: number; letter: string; axis: string; space: boolean }) {
  return (
    <div style={{ position: 'absolute', left, top: cy - 18, height: 36, lineHeight: '36px', fontFamily: SANS, fontSize: 25, letterSpacing: 0.4, whiteSpace: 'nowrap', color: '#000' }}>
      ({letter}){space ? ' ' : ''}Fe<Sub s="0.78em">3</Sub>O<Sub s="0.78em">4</Sub>:Eu<Sub s="0.78em">Fe</Sub>{' '}
      <span style={{ fontFamily: SERIF, fontSize: 35 }}>(</span>
      <span style={{ fontFamily: SERIF, fontStyle: 'italic', fontSize: 26 }}>{axis}</span>
      <span style={{ fontFamily: SERIF, fontSize: 35 }}>)</span>
    </div>
  );
}

function MBox({ left, top, value }: { left: number; top: number; value: string }) {
  return (
    <div style={{ position: 'absolute', left, top, width: 193, height: 44, border: '1.5px solid #ff0000', background: '#fff', boxSizing: 'border-box', display: 'flex', alignItems: 'center', justifyContent: 'center', fontFamily: SANS, fontWeight: 'bold', fontSize: 23, color: '#7a0000', whiteSpace: 'nowrap' }}>
      <span><i>m</i> = {value} <i>μ</i><Sub s="0.75em" d="-0.35em">B</Sub>/f.u.</span>
    </div>
  );
}

function UBlock({ left, top, sym, lines }: { left: number; top: number; sym: string; lines: [string, string, string, string][] }) {
  return (
    <div style={{ position: 'absolute', left, top, background: '#fff', fontFamily: SANS, fontSize: 26, lineHeight: '37px', whiteSpace: 'nowrap', paddingRight: 4 }}>
      <span style={{ position: 'absolute', left: 2, top: -12, fontSize: 15, lineHeight: '16px', fontFamily: ARROWF }}>{sym}</span>
      {lines.map(([a, b, c, d], i) => (
        <div key={i}><It>{a}</It><Sub s="0.8em" d="-0.3em"><It>{b}</It></Sub>({c}) = {d} eV</div>
      ))}
    </div>
  );
}

function XTitle({ cx }: { cx: number }) {
  return (
    <div style={{ position: 'absolute', left: cx - 150, width: 300, top: 1360, textAlign: 'center', fontFamily: SANS, fontWeight: 'bold', fontSize: 27, lineHeight: '32px', whiteSpace: 'nowrap' }}>
      <i>E</i> – <i>E</i><Sub s="0.7em" d="-0.38em">Fermi</Sub> (eV)
    </div>
  );
}

function YTitle({ cy }: { cy: number }) {
  return (
    <div style={{ position: 'absolute', left: 33 - 110, width: 220, top: cy - 16, height: 32, lineHeight: '32px', textAlign: 'center', transform: 'rotate(-90deg)', fontFamily: SANS, fontWeight: 'bold', fontSize: 27, whiteSpace: 'nowrap' }}>
      DOS (eV<span style={{ fontSize: '0.62em', verticalAlign: '0.6em', lineHeight: 0 }}>−1</span>)
    </div>
  );
}

function arrowHead(x1: number, y1: number, x2: number, y2: number, len: number, hw: number) {
  const dx = x2 - x1, dy = y2 - y1;
  const L = Math.hypot(dx, dy);
  const ux = dx / L, uy = dy / L;
  const bx = x2 - ux * len, by = y2 - uy * len;
  const px = -uy * hw, py = ux * hw;
  return { pts: `${x2},${y2} ${bx + px},${by + py} ${bx - px},${by - py}`, bx, by };
}

function Arrow({ x1, y1, x2, y2, color, width, len, hw, both = false }: { x1: number; y1: number; x2: number; y2: number; color: string; width: number; len: number; hw: number; both?: boolean }) {
  const h1 = arrowHead(x1, y1, x2, y2, len, hw);
  const h0 = arrowHead(x2, y2, x1, y1, len, hw);
  const sx = both ? h0.bx : x1, sy = both ? h0.by : y1;
  return (
    <g>
      <line x1={sx} y1={sy} x2={h1.bx} y2={h1.by} stroke={color} strokeWidth={width} />
      <polygon points={h1.pts} fill={color} />
      {both ? <polygon points={h0.pts} fill={color} /> : null}
    </g>
  );
}

const ORANGE = '#ff8c1a';

export default function App() {
  const txt = (extra: React.CSSProperties): React.CSSProperties => ({ position: 'absolute', whiteSpace: 'nowrap', ...extra });
  return (
    <div style={{ position: 'absolute', left: 0, top: 0, width: 1413, height: 1396, background: '#fff', overflow: 'hidden' }}>
      {PANELS.map((p, i) => <DosPanel key={i} cfg={p} />)}

      <PanelLabel left={130} cy={406} letter="a" axis="x" space={false} />
      <PanelLabel left={130} cy={851} letter="b" axis="y" space={false} />
      <PanelLabel left={130} cy={933} letter="c" axis="z" space={true} />
      <PanelLabel left={577} cy={405} letter="d" axis="x" space={true} />
      <PanelLabel left={577} cy={850} letter="e" axis="y" space={true} />
      <PanelLabel left={577} cy={1287} letter="f" axis="z" space={true} />
      <PanelLabel left={1051} cy={405} letter="g" axis="x" space={true} />
      <PanelLabel left={1051} cy={852} letter="h" axis="y" space={false} />
      <PanelLabel left={1051} cy={1287} letter="i" axis="z" space={true} />

      <div style={txt({ left: 300, top: 60, fontFamily: SERIF, fontSize: 31, lineHeight: '40px', letterSpacing: 1 })}>GGA</div>
      <div style={txt({ left: 681, top: 60, fontFamily: SERIF, fontSize: 31, lineHeight: '40px', letterSpacing: 1 })}>
        GGA+<i>U</i><span style={{ fontSize: 14, verticalAlign: '0.9em', lineHeight: 0, fontFamily: ARROWF }}>♥</span>
      </div>
      <div style={txt({ left: 1152, top: 60, fontFamily: SERIF, fontSize: 31, lineHeight: '40px', letterSpacing: 1 })}>
        GGA+<i>U</i><span style={{ fontSize: 14, verticalAlign: '0.9em', lineHeight: 0, fontFamily: ARROWF }}>♠</span>
      </div>

      <div style={txt({ left: 1077, top: 124, fontFamily: SANS, fontSize: 26, lineHeight: '36px', color: '#555' })}>
        <i>t</i><Sub><i>2g</i></Sub>&amp;e<Sub><i>g</i></Sub><Arr c="↑" />
      </div>
      <div style={txt({ left: 1245, top: 140, fontFamily: SANS, fontSize: 26, lineHeight: '36px', color: C_TET })}>
        <i>e</i><Arr c="↑" />
      </div>
      <div style={txt({ left: 1101, top: 332, fontFamily: SANS, fontSize: 26, lineHeight: '36px', color: C_TET })}>
        <i>e</i>&amp;<i>t</i><Sub>2</Sub><Arr c="↓" />
      </div>
      <div style={txt({ left: 1217, top: 324, fontFamily: SANS, fontSize: 26, lineHeight: '36px', color: '#555' })}>
        <i>t</i><Sub><i>2g</i></Sub><Arr c="↓" />
      </div>
      <div style={txt({ left: 1295, top: 830, fontFamily: SANS, fontSize: 26, lineHeight: '36px', color: '#555' })}>
        <i>t</i><Sub><i>2g</i></Sub>&amp;e<Sub><i>g</i></Sub><Arr c="↓" />
      </div>

      <MBox left={110} top={497} value="7.757" />
      <MBox left={678} top={498} value="9.318" />
      <MBox left={1072} top={497} value="9.451" />

      <div style={{ position: 'absolute', left: 1121, top: 574, width: 182, height: 162, border: '2px solid #000', background: '#fff', boxSizing: 'border-box', fontFamily: SANS, fontSize: 25 }}>
        {[
          { c: C_EU, w: 3.5, y: 19, t: <>Eu 4<It serif>f</It></> },
          { c: C_TET, w: 3.5, y: 55, t: <>Fe<Sub>Tet</Sub> <span style={{ fontFamily: SERIF }}>3<i>d</i></span></> },
          { c: C_OCT, w: 3.5, y: 98, t: <>Fe<Sub>Oct</Sub> <span style={{ fontFamily: SERIF }}>3<i>d</i></span></> },
          { c: C_P, w: 2, y: 141, t: <>2<It serif>p</It></> },
        ].map((e, i) => (
          <React.Fragment key={i}>
            <div style={{ position: 'absolute', left: 3, top: e.y - e.w / 2, width: 62, height: e.w, background: e.c }} />
            <div style={{ position: 'absolute', left: 72, top: e.y - 16, height: 32, lineHeight: '32px', whiteSpace: 'nowrap' }}>{e.t}</div>
          </React.Fragment>
        ))}
      </div>

      <UBlock left={694} top={1088} sym="♥" lines={[['U', 'd', 'Fe', '3.5'], ['J', 'd', 'Fe', '0.0'], ['U', 'f', 'Eu', '5.0'], ['J', 'f', 'Eu', '1.0']]} />
      <UBlock left={1118} top={927} sym="♠" lines={[['U', 'd', 'Fe', '5.3'], ['J', 'd', 'Fe', '0.0'], ['U', 'f', 'Eu', '8.7'], ['J', 'f', 'Eu', '1.0']]} />

      <YTitle cy={225} />
      <YTitle cy={665} />
      <YTitle cy={1107} />
      <XTitle cx={296} />
      <XTitle cx={754} />
      <XTitle cx={1206} />

      <svg width={1413} height={1396} style={{ position: 'absolute', left: 0, top: 0, pointerEvents: 'none' }}>
        <Arrow x1={260} y1={108} x2={320} y2={108} color={ORANGE} width={3} len={17} hw={7} both />
        <Arrow x1={631} y1={35} x2={691} y2={35} color={ORANGE} width={3} len={17} hw={7} both />
        <Arrow x1={1108} y1={45} x2={1049} y2={45} color={ORANGE} width={3} len={18} hw={7.5} />
        <circle cx={1364} cy={33} r={7} fill="#3c3cff" />
        <Arrow x1={1259} y1={174} x2={1277} y2={238} color={C_TET} width={3} len={22} hw={10} />
        <Arrow x1={1242} y1={323} x2={1276} y2={284} color="#333" width={3} len={20} hw={10} />
      </svg>
    </div>
  );
}
